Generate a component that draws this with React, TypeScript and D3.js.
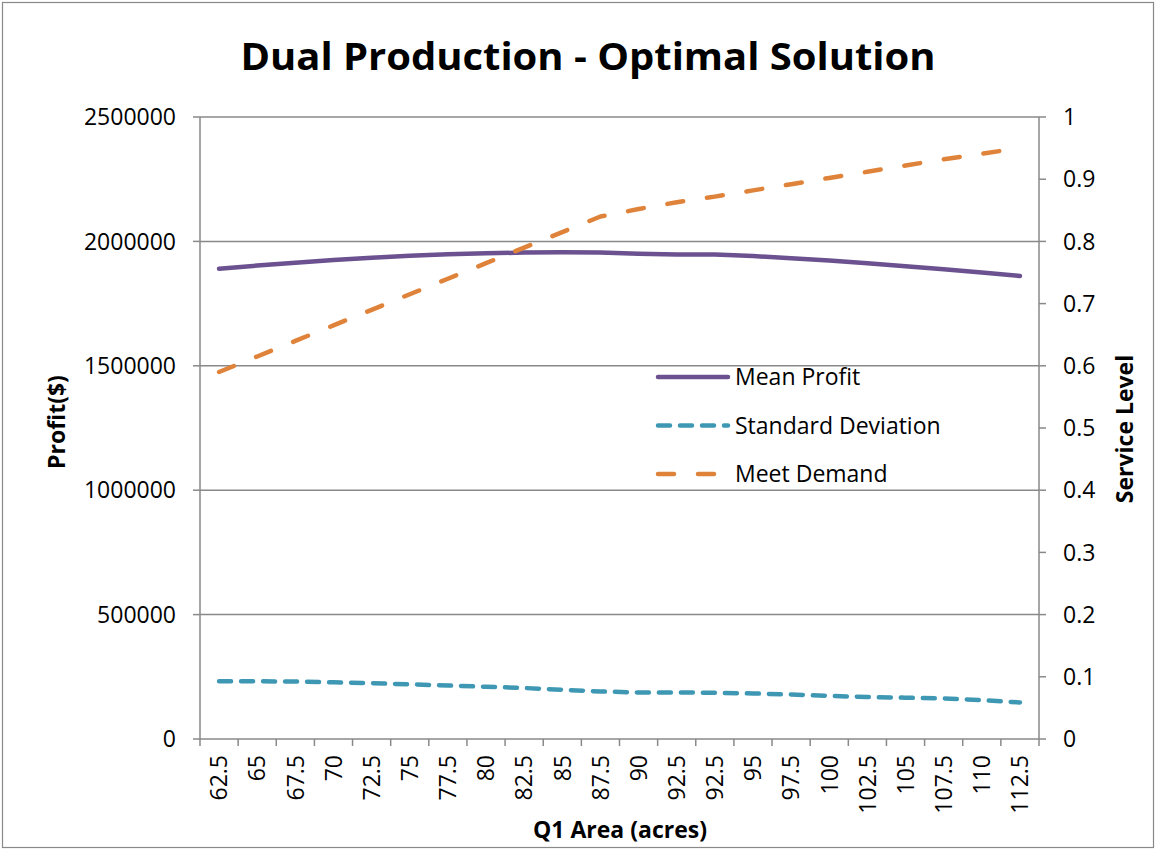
import React from "react";
import * as d3 from "d3";

const categories = ["62.5","65","67.5","70","72.5","75","77.5","80","82.5","85","87.5","90","92.5","92.5","95","97.5","100","102.5","105","107.5","110","112.5"];
const meanProfit = [1890000,1903000,1914000,1925000,1934000,1942000,1948000,1952000,1955000,1956000,1955000,1950000,1947000,1947000,1941000,1932000,1923000,1912000,1900000,1888000,1875000,1861000];
const stdDev = [232000,232000,231000,228000,224000,220000,215000,210000,205000,198000,191000,187000,187000,186000,183000,179000,173000,169000,166000,163000,156000,147000];
const meetDemand = [0.59,0.615,0.64,0.665,0.69,0.715,0.74,0.765,0.79,0.815,0.84,0.852,0.863,0.872,0.882,0.892,0.902,0.912,0.922,0.932,0.941,0.95];
const leftTicks = [0,500000,1000000,1500000,2000000,2500000];
const rightTicks = [0,0.1,0.2,0.3,0.4,0.5,0.6,0.7,0.8,0.9,1];

const W = 1158, H = 850;
const L = 200, R = 1039, T = 117, B = 739;
const GRAY = "#898989";
const FONT = "'Open Sans', sans-serif";

export default function App() {
  const idx = categories.map((_, i) => i);
  const x = d3.scaleBand<number>().domain(idx).range([L, R]).padding(0);
  const cx = (i: number) => (x(i) as number) + x.bandwidth() / 2;
  const yL = d3.scaleLinear().domain([0, 2500000]).range([B, T]);
  const yR = d3.scaleLinear().domain([0, 1]).range([B, T]);

  const lineL = d3.line<number>().x((_, i) => cx(i)).y((d) => yL(d));
  const lineR = d3.line<number>().x((_, i) => cx(i)).y((d) => yR(d));

  const series = [
    { name: "Mean Profit", color: "#6B5190", dash: "none", path: lineL(meanProfit) },
    { name: "Standard Deviation", color: "#3F98B3", dash: "12,10", path: lineL(stdDev) },
    { name: "Meet Demand", color: "#E0833A", dash: "16,24", path: lineR(meetDemand) },
  ];

  const bounds = d3.range(categories.length + 1).map((i) => L + i * x.bandwidth());

  return (
    <svg width={W} height={H} style={{ position: "absolute", left: 0, top: 0, background: "#fff" }} fontFamily={FONT}>
      <rect x={2.5} y={2.5} width={1151} height={845} fill="#fff" stroke={GRAY} strokeWidth={1.2} />
      <text x={588} y={70} textAnchor="middle" fontSize={37} fontWeight="bold" textLength={695} lengthAdjust="spacingAndGlyphs">
        Dual Production - Optimal Solution
      </text>

      {/* gridlines */}
      {leftTicks.map((t) => (
        <line key={"g" + t} x1={L} x2={R} y1={yL(t)} y2={yL(t)} stroke={GRAY} strokeWidth={1.5} />
      ))}
      {/* axes */}
      <line x1={L} x2={L} y1={T} y2={B} stroke={GRAY} strokeWidth={1.5} />
      <line x1={R} x2={R} y1={T} y2={B} stroke={GRAY} strokeWidth={1.5} />
      {leftTicks.map((t) => (
        <g key={"l" + t}>
          <line x1={L - 7} x2={L} y1={yL(t)} y2={yL(t)} stroke={GRAY} strokeWidth={1.5} />
          <text x={176} y={yL(t)} dy="0.36em" textAnchor="end" fontSize={23}>{t}</text>
        </g>
      ))}
      {rightTicks.map((t) => (
        <g key={"r" + t}>
          <line x1={R} x2={R + 7} y1={yR(t)} y2={yR(t)} stroke={GRAY} strokeWidth={1.5} />
          <text x={1063} y={yR(t)} dy="0.36em" textAnchor="start" fontSize={23}>{String(+t.toFixed(1))}</text>
        </g>
      ))}
      {bounds.map((b, i) => (
        <line key={"b" + i} x1={b} x2={b} y1={B} y2={B + 7} stroke={GRAY} strokeWidth={1.5} />
      ))}
      {categories.map((c, i) => (
        <text key={"c" + i} transform={`translate(${cx(i)},755) rotate(-90)`} dy="0.36em" textAnchor="end" fontSize={23}>{c}</text>
      ))}

      {/* axis titles */}
      <text transform="translate(57,422) rotate(-90)" dy="0.36em" textAnchor="middle" fontSize={23} fontWeight="bold">Profit($)</text>
      <text transform="translate(1125,429) rotate(-90)" dy="0.36em" textAnchor="middle" fontSize={23} fontWeight="bold">Service Level</text>
      <text x={620} y={838} textAnchor="middle" fontSize={23} fontWeight="bold">Q1 Area (acres)</text>

      {/* series */}
      {series.map((s) => (
        <path key={s.name} d={s.path || ""} fill="none" stroke={s.color} strokeWidth={4.5}
          strokeDasharray={s.dash} strokeLinecap="round" strokeLinejoin="round" />
      ))}

      {/* legend */}
      {series.map((s, i) => (
        <g key={"lg" + s.name} transform={`translate(0,${377 + i * 48.5})`}>
          <line x1={658} x2={728} y1={0} y2={0} stroke={s.color} strokeWidth={4.5}
            strokeDasharray={s.dash} strokeLinecap="round" />
          <text x={735} y={0} dy="0.36em" fontSize={23}>{s.name}</text>
        </g>
      ))}
    </svg>
  );
}
